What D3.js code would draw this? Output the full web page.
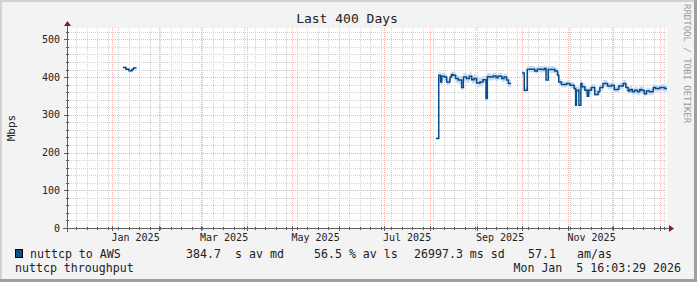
<!DOCTYPE html>
<html>
<head>
<meta charset="utf-8">
<script src="https://cdn.jsdelivr.net/npm/d3@7"></script>
<style>
  body { margin: 0; background: #f3f3f3; }
  svg { display: block; }
  text { font-family: 'DejaVu Sans Mono', monospace; }
</style>
</head>
<body>
<script>
// step starts (null value = no data from that time on)
const dates = [
  '2025-01-08T00:00', '2025-01-10T00:00', '2025-01-12T00:00', '2025-01-14T00:00', '2025-01-15T00:00', '2025-01-17T00:00',
  '2025-08-04T16:00', '2025-08-06T12:00', '2025-08-07T18:00', '2025-08-08T12:00', '2025-08-10T06:00', '2025-08-11T18:00',
  '2025-08-14T00:00', '2025-08-15T00:00', '2025-08-16T00:00', '2025-08-17T18:00', '2025-08-19T12:00', '2025-08-21T18:00',
  '2025-08-22T22:00', '2025-08-25T00:00', '2025-08-26T22:00', '2025-08-28T12:00', '2025-08-30T00:00', '2025-08-31T18:00',
  '2025-09-03T00:00', '2025-09-05T00:00', '2025-09-07T00:00', '2025-09-07T22:00', '2025-09-09T18:00', '2025-09-11T22:00',
  '2025-09-13T18:00', '2025-09-15T00:00', '2025-09-17T12:00', '2025-09-19T00:00', '2025-09-20T18:00', '2025-09-21T22:00',
  '2025-09-23T18:00',
  '2025-10-01T00:00', '2025-10-02T12:00', '2025-10-04T12:00', '2025-10-09T12:00', '2025-10-11T06:00', '2025-10-14T00:00',
  '2025-10-16T00:00', '2025-10-17T00:00', '2025-10-18T12:00', '2025-10-22T22:00', '2025-10-24T18:00', '2025-10-25T12:00',
  '2025-10-27T06:00', '2025-10-30T18:00', '2025-11-01T22:00', '2025-11-04T18:00', '2025-11-05T18:00', '2025-11-06T06:00',
  '2025-11-07T22:00', '2025-11-09T06:00', '2025-11-10T00:00', '2025-11-11T22:00', '2025-11-13T12:00', '2025-11-14T12:00',
  '2025-11-16T06:00', '2025-11-18T12:00', '2025-11-20T18:00', '2025-11-21T22:00', '2025-11-24T00:00', '2025-11-27T00:00',
  '2025-11-29T18:00', '2025-12-01T12:00', '2025-12-04T12:00', '2025-12-07T12:00', '2025-12-09T06:00', '2025-12-10T18:00',
  '2025-12-11T22:00', '2025-12-13T12:00', '2025-12-15T00:00', '2025-12-17T00:00', '2025-12-18T12:00', '2025-12-19T18:00',
  '2025-12-21T12:00', '2025-12-23T00:00', '2025-12-25T00:00', '2025-12-27T12:00', '2025-12-29T00:00', '2025-12-31T22:00',
  '2026-01-04T00:00', '2026-01-05T16:00'
]
const avgMbps = [
  425, 421, 417, 420, 424, null,
  237, 405, 387, 402, 400, 387,
  400, 407, 405, 396, 392, 372,
  400, 396, 402, 393, 396, 384,
  387, 393, 343, 401, 400, 403,
  398, 402, 396, 400, 392, 383,
  null,
  411, 365, 421, 416, 421, 420,
  423, 392, 420, 416, 405, 387,
  380, 383, 378, 370, 325, 365,
  325, 383, 374, 365, 349, 365,
  372, 354, 361, 372, 383, 376,
  378, 367, 376, 383, 372, 363,
  367, 361, 365, 361, 367, 365,
  356, 363, 361, 372, 370, 372,
  370, null
]
const minMbps = [
  422, 418, 414, 417, 421, null,
  237, 395, 379, 393, 391, 379,
  391, 397, 395, 385, 381, 365,
  389, 384, 391, 382, 384, 373,
  375, 383, 387, 391, 391, 393,
  389, 393, 387, 390, 381, 373,
  null,
  403, 359, 413, 409, 413, 412,
  414, 399, 411, 407, 397, 380,
  372, 375, 371, 361, 355, 357,
  355, 375, 366, 355, 351, 355,
  363, 349, 352, 363, 374, 368,
  369, 359, 367, 374, 363, 355,
  358, 353, 356, 352, 357, 356,
  349, 354, 352, 363, 361, 363,
  361, null
]
const maxMbps = [
  428, 424, 420, 423, 427, null,
  240, 413, 397, 411, 409, 397,
  409, 415, 414, 405, 403, 383,
  411, 407, 413, 403, 407, 396,
  399, 403, 407, 411, 409, 412,
  407, 411, 405, 409, 401, 393,
  null,
  419, 373, 429, 425, 429, 428,
  431, 427, 429, 425, 414, 395,
  388, 391, 387, 379, 377, 375,
  375, 392, 383, 374, 371, 373,
  381, 367, 371, 381, 392, 385,
  387, 376, 385, 392, 381, 372,
  376, 370, 374, 370, 376, 374,
  367, 372, 370, 381, 379, 381,
  379, null
]
const yTicks = [0, 100, 200, 300, 400, 500]

const legendName = 'nuttcp to AWS'
const legendStats = [
  ['384.7', 186], ['s av md', 235], ['56.5 % av ls', 314],
  ['26997.3 ms sd', 414], ['57.1', 528], ['am/as', 577]
]
const commentText = 'nuttcp throughput'
const stampText = 'Mon Jan  5 16:03:29 2026'
const titleText = 'Last 400 Days'
const yLabelText = 'Mbps'

const width = 697
const height = 282
const margin = { left: 67, top: 28, right: 30, bottom: 54 }

const lineBlue = '#0a4c8c'
const bandBlue = '#c8dbef'
const gridGray = '#d2d2d2'
const gridRed = '#f0b4b4'
const axisGray = '#5f5f5f'
const arrowRed = '#8a1c1c'
const textDark = '#222222'

const parse = d3.timeParse('%Y-%m-%dT%H:%M')
const endTime = new Date(2026, 0, 5, 16, 3, 29)
const startTime = d3.timeDay.offset(endTime, -400)

const data = dates.map((d, i) => ({
  t: parse(d), v: avgMbps[i], lo: minMbps[i], hi: maxMbps[i]
}))

// expand steps to explicit corners, split on gaps
const segments = []
let cur = []
data.forEach((d, i) => {
  if (d.v === null) {
    if (cur.length) segments.push(cur)
    cur = []
    return
  }
  const next = data[i + 1]
  cur.push({ t: d.t, v: d.v, lo: d.lo, hi: d.hi })
  cur.push({ t: next.t, v: d.v, lo: d.lo, hi: d.hi })
})
if (cur.length) segments.push(cur)

const svg = d3.select('body').append('svg')
  .attr('width', width)
  .attr('height', height)

// canvas + frame
svg.append('rect').attr('width', width).attr('height', height).attr('fill', '#f3f3f3')
svg.append('rect').attr('x', 0).attr('y', 0).attr('width', width).attr('height', 2).attr('fill', '#d2d2d2')
svg.append('rect').attr('x', 0).attr('y', 0).attr('width', 2).attr('height', height).attr('fill', '#d2d2d2')
svg.append('rect').attr('x', width - 3).attr('y', 0).attr('width', 3).attr('height', height).attr('fill', '#a0a0a0')
svg.append('rect').attr('x', 0).attr('y', height - 3).attr('width', width).attr('height', 3).attr('fill', '#a0a0a0')

const x = d3.scaleTime()
  .domain([startTime, endTime])
  .range([margin.left, width - margin.right])

const y = d3.scaleLinear()
  .domain([0, 530])
  .range([height - margin.bottom, margin.top])

const x0 = x.range()[0]
const x1 = x.range()[1]
const y0 = y.range()[0]
const y1 = y.range()[1]

// plot background
svg.append('rect')
  .attr('x', x0).attr('y', y1)
  .attr('width', x1 - x0).attr('height', y0 - y1)
  .attr('fill', '#ffffff')

const grid = svg.append('g').attr('shape-rendering', 'crispEdges')

// minor grid
grid.selectAll('.hminor')
  .data(d3.range(20, 530, 20).filter(v => v % 100 !== 0))
  .enter().append('line')
  .attr('x1', x0).attr('x2', x1)
  .attr('y1', d => Math.round(y(d)) + 0.5).attr('y2', d => Math.round(y(d)) + 0.5)
  .style('stroke', gridGray).style('stroke-dasharray', '1,1')

grid.selectAll('.vminor')
  .data(d3.timeSunday.range(startTime, endTime))
  .enter().append('line')
  .attr('x1', d => Math.round(x(d)) + 0.5).attr('x2', d => Math.round(x(d)) + 0.5)
  .attr('y1', y1).attr('y2', y0)
  .style('stroke', gridGray).style('stroke-dasharray', '1,1')

// major grid
grid.selectAll('.hmajor')
  .data(yTicks.filter(v => v > 0))
  .enter().append('line')
  .attr('x1', x0).attr('x2', x1)
  .attr('y1', d => Math.round(y(d)) + 0.5).attr('y2', d => Math.round(y(d)) + 0.5)
  .style('stroke', gridRed).style('stroke-dasharray', '1,1')

grid.selectAll('.vmajor')
  .data(d3.timeMonth.range(d3.timeMonth.ceil(startTime), endTime))
  .enter().append('line')
  .attr('x1', d => Math.round(x(d)) + 0.5).attr('x2', d => Math.round(x(d)) + 0.5)
  .attr('y1', y1).attr('y2', y0)
  .style('stroke', gridRed).style('stroke-dasharray', '1,1')

// min/max band
const band = d3.area()
  .x(d => x(d.t))
  .y0(d => y(d.lo))
  .y1(d => y(d.hi))

svg.selectAll('.band')
  .data(segments)
  .enter().append('path')
  .attr('d', band)
  .style('fill', bandBlue)

// average line
const line = d3.line()
  .x(d => x(d.t))
  .y(d => y(d.v))

svg.selectAll('.avg')
  .data(segments)
  .enter().append('path')
  .attr('d', line)
  .style('fill', 'none')
  .style('stroke', lineBlue)
  .style('stroke-width', 1.5)

// axes
const axisG = svg.append('g').attr('shape-rendering', 'crispEdges')
axisG.append('line')
  .attr('x1', x0 - 4).attr('x2', x1 + 2)
  .attr('y1', y0 + 0.5).attr('y2', y0 + 0.5)
  .style('stroke', axisGray)
axisG.append('line')
  .attr('x1', x0 + 0.5).attr('x2', x0 + 0.5)
  .attr('y1', y0 + 4).attr('y2', y1 - 4)
  .style('stroke', axisGray)

// tick marks on axes
axisG.selectAll('.ytick')
  .data(d3.range(0, 530, 20))
  .enter().append('line')
  .attr('x1', d => d % 100 === 0 ? x0 - 3 : x0 - 1).attr('x2', x0 + 2)
  .attr('y1', d => Math.round(y(d)) + 0.5).attr('y2', d => Math.round(y(d)) + 0.5)
  .style('stroke', axisGray)

axisG.selectAll('.xtick')
  .data(d3.timeSunday.range(startTime, endTime))
  .enter().append('line')
  .attr('x1', d => Math.round(x(d)) + 0.5).attr('x2', d => Math.round(x(d)) + 0.5)
  .attr('y1', y0 - 1).attr('y2', y0 + 2)
  .style('stroke', axisGray)

axisG.selectAll('.xmtick')
  .data(d3.timeMonth.range(d3.timeMonth.ceil(startTime), endTime))
  .enter().append('line')
  .attr('x1', d => Math.round(x(d)) + 0.5).attr('x2', d => Math.round(x(d)) + 0.5)
  .attr('y1', y0 - 2).attr('y2', y0 + 3)
  .style('stroke', axisGray)

// arrows
svg.append('path')
  .attr('d', `M${x1 + 2},${y0 - 3} L${x1 + 7},${y0 + 0.5} L${x1 + 2},${y0 + 4} Z`)
  .style('fill', arrowRed)
svg.append('path')
  .attr('d', `M${x0 - 3},${y1 - 2} L${x0 + 0.5},${y1 - 7} L${x0 + 4},${y1 - 2} Z`)
  .style('fill', arrowRed)

// y labels
svg.selectAll('.ylabel')
  .data(yTicks)
  .enter().append('text')
  .attr('x', x0 - 7)
  .attr('y', d => y(d) + 3.5)
  .attr('text-anchor', 'end')
  .style('font-size', '10px')
  .style('fill', textDark)
  .text(d => d)

// x labels (only those that fit inside the plot)
const fmt = d3.timeFormat('%b %Y')
svg.selectAll('.xlabel')
  .data(d3.timeMonth.every(2).range(d3.timeMonth.ceil(startTime), endTime)
    .filter(d => x(d) + 48 < x1))
  .enter().append('text')
  .attr('x', d => x(d) - 1)
  .attr('y', y0 + 13)
  .style('font-size', '10px')
  .style('fill', textDark)
  .text(fmt)

// title
svg.append('text')
  .attr('x', 347)
  .attr('y', 23)
  .attr('text-anchor', 'middle')
  .style('font-size', '13px')
  .style('fill', textDark)
  .text(titleText)

// vertical label
svg.append('text')
  .attr('transform', 'translate(15,128) rotate(-90)')
  .attr('text-anchor', 'middle')
  .style('font-size', '11px')
  .style('fill', textDark)
  .text(yLabelText)

// watermark
svg.append('text')
  .attr('transform', 'translate(684,4) rotate(90)')
  .style('font-size', '9px')
  .style('fill', '#9a9a9a')
  .text('RRDTOOL / TOBI OETIKER')

// legend
svg.append('rect')
  .attr('x', 15.5).attr('y', 249.5)
  .attr('width', 7).attr('height', 8)
  .style('fill', lineBlue)
  .style('stroke', '#000')
  .style('stroke-width', 1)

svg.append('text')
  .attr('x', 30).attr('y', 258)
  .style('font-size', '11.6px')
  .style('fill', textDark)
  .text(legendName)

svg.selectAll('.stat')
  .data(legendStats)
  .enter().append('text')
  .attr('x', d => d[1]).attr('y', 258)
  .style('font-size', '11.6px')
  .style('fill', textDark)
  .style('white-space', 'pre')
  .text(d => d[0])

svg.append('text')
  .attr('x', 15).attr('y', 272)
  .style('font-size', '11.6px')
  .style('fill', textDark)
  .text(commentText)

svg.append('text')
  .attr('x', 681).attr('y', 272)
  .attr('text-anchor', 'end')
  .style('font-size', '11.6px')
  .style('fill', textDark)
  .style('white-space', 'pre')
  .text(stampText)
</script>
</body>
</html>
